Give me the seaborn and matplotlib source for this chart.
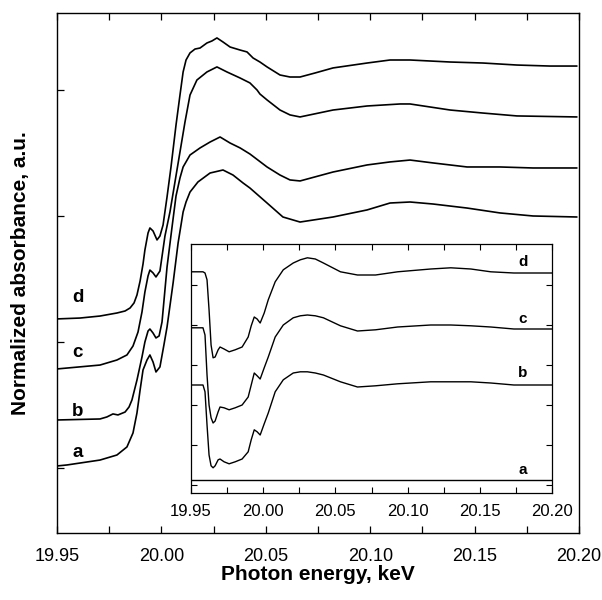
import matplotlib
matplotlib.use("Agg")
import matplotlib.pyplot as plt
import seaborn as sns
from matplotlib.ticker import MultipleLocator, FormatStrFormatter

# ---------------- main panel: normalized XANES spectra ----------------
energy_a = [19.9500, 19.9548, 19.9706, 19.9787, 19.9835, 19.9864, 19.9883, 19.9898, 19.9912,
            19.9931, 19.9945, 19.9960, 19.9974, 19.9993, 20.0012, 20.0027, 20.0056, 20.0080,
            20.0094, 20.0104, 20.0118, 20.0137, 20.0175, 20.0233, 20.0295, 20.0343, 20.0391,
            20.0424, 20.0506, 20.0582, 20.0664, 20.0822, 20.0985, 20.1095, 20.1191, 20.1301,
            20.1464, 20.1622, 20.1780, 20.1990]
absorb_a = [1.016, 1.024, 1.063, 1.103, 1.167, 1.278, 1.437, 1.619, 1.778,
            1.857, 1.897, 1.841, 1.762, 1.802, 1.976, 2.119, 2.468, 2.786,
            2.929, 3.032, 3.111, 3.190, 3.270, 3.341, 3.365, 3.325, 3.262,
            3.222, 3.103, 2.992, 2.952, 2.992, 3.048, 3.103, 3.111, 3.095,
            3.063, 3.024, 3.000, 2.992]

energy_b = [19.9500, 19.9706, 19.9739, 19.9768, 19.9792, 19.9826, 19.9845, 19.9859, 19.9883,
            19.9907, 19.9921, 19.9936, 19.9945, 19.9960, 19.9974, 19.9989, 20.0003, 20.0027,
            20.0051, 20.0070, 20.0089, 20.0104, 20.0137, 20.0185, 20.0233, 20.0281, 20.0329,
            20.0377, 20.0424, 20.0506, 20.0568, 20.0616, 20.0664, 20.0822, 20.0985, 20.1095,
            20.1191, 20.1301, 20.1464, 20.1622, 20.1780, 20.1990]
absorb_b = [1.381, 1.389, 1.405, 1.429, 1.421, 1.444, 1.484, 1.540, 1.698,
            1.881, 2.000, 2.087, 2.103, 2.071, 2.032, 2.048, 2.159, 2.595,
            2.913, 3.159, 3.302, 3.389, 3.484, 3.540, 3.587, 3.627, 3.579,
            3.540, 3.492, 3.389, 3.325, 3.286, 3.278, 3.349, 3.405, 3.429,
            3.444, 3.421, 3.389, 3.389, 3.381, 3.381]

energy_c = [19.9500, 19.9706, 19.9787, 19.9835, 19.9864, 19.9888, 19.9907, 19.9921, 19.9936,
            19.9945, 19.9960, 19.9974, 19.9993, 20.0017, 20.0041, 20.0065, 20.0089, 20.0113,
            20.0137, 20.0170, 20.0218, 20.0266, 20.0314, 20.0377, 20.0424, 20.0458, 20.0472,
            20.0506, 20.0568, 20.0616, 20.0664, 20.0822, 20.0985, 20.1143, 20.1191, 20.1383,
            20.1540, 20.1703, 20.1990]
absorb_c = [1.786, 1.817, 1.857, 1.897, 1.968, 2.079, 2.238, 2.397, 2.524,
            2.571, 2.548, 2.516, 2.563, 2.841, 3.032, 3.270, 3.508, 3.746,
            3.960, 4.079, 4.143, 4.183, 4.143, 4.095, 4.056, 4.000, 3.968,
            3.921, 3.841, 3.802, 3.786, 3.841, 3.873, 3.889, 3.889, 3.841,
            3.817, 3.794, 3.786]

energy_d = [19.9500, 19.9610, 19.9706, 19.9787, 19.9826, 19.9850, 19.9869, 19.9883, 19.9898,
            19.9912, 19.9921, 19.9936, 19.9945, 19.9960, 19.9979, 19.9993, 20.0008, 20.0027,
            20.0046, 20.0070, 20.0089, 20.0104, 20.0118, 20.0137, 20.0161, 20.0185, 20.0218,
            20.0242, 20.0266, 20.0295, 20.0329, 20.0377, 20.0410, 20.0439, 20.0472, 20.0506,
            20.0568, 20.0616, 20.0664, 20.0736, 20.0822, 20.0985, 20.1095, 20.1191, 20.1383,
            20.1540, 20.1703, 20.1861, 20.1990]
absorb_d = [2.183, 2.190, 2.206, 2.230, 2.246, 2.270, 2.310, 2.373, 2.484,
            2.619, 2.730, 2.865, 2.905, 2.881, 2.810, 2.841, 2.929, 3.151,
            3.389, 3.722, 3.960, 4.143, 4.238, 4.294, 4.325, 4.333, 4.373,
            4.389, 4.413, 4.381, 4.341, 4.317, 4.302, 4.254, 4.222, 4.183,
            4.119, 4.103, 4.103, 4.135, 4.175, 4.214, 4.238, 4.238, 4.222,
            4.214, 4.198, 4.190, 4.190]

main_labels = ["a", "b", "c", "d"]
main_label_y = [1.12, 1.45, 1.92, 2.35]
main_label_x = 19.960

main_xticks = [19.95, 20.00, 20.05, 20.10, 20.15, 20.20]
main_yticks = [1, 2, 3, 4]

# ---------------- inset: difference spectra ----------------
energy_inset = [19.9500, 19.9563, 19.9583, 19.9597, 19.9611, 19.9625, 19.9639, 19.9653, 19.9667,
                19.9688, 19.9701, 19.9729, 19.9764, 19.9806, 19.9854, 19.9896, 19.9917, 19.9938,
                19.9958, 19.9979, 20.0007, 20.0035, 20.0083, 20.0139, 20.0208, 20.0257, 20.0306,
                20.0361, 20.0417, 20.0535, 20.0653, 20.0778, 20.0931, 20.1160, 20.1299, 20.1438,
                20.1576, 20.1736, 20.2000]
diff_a = [0.13] * 39
diff_b = [2.50, 2.50, 2.50, 2.33, 1.50, 0.75, 0.48, 0.43, 0.48,
          0.63, 0.65, 0.58, 0.53, 0.58, 0.65, 0.83, 1.13, 1.38,
          1.33, 1.25, 1.53, 1.80, 2.33, 2.63, 2.80, 2.83, 2.83,
          2.80, 2.75, 2.58, 2.45, 2.48, 2.53, 2.58, 2.58, 2.58,
          2.55, 2.50, 2.50]
diff_c = [3.93, 3.93, 3.93, 3.75, 2.75, 2.00, 1.68, 1.55, 1.60,
          1.83, 1.95, 1.93, 1.88, 1.93, 2.00, 2.20, 2.50, 2.80,
          2.73, 2.65, 2.93, 3.20, 3.70, 4.00, 4.18, 4.23, 4.25,
          4.23, 4.18, 3.98, 3.85, 3.88, 3.95, 4.00, 4.00, 3.98,
          3.95, 3.90, 3.90]
diff_d = [5.33, 5.33, 5.33, 5.30, 5.13, 4.38, 3.50, 3.18, 3.20,
          3.38, 3.45, 3.40, 3.33, 3.38, 3.45, 3.70, 3.98, 4.20,
          4.15, 4.05, 4.30, 4.63, 5.08, 5.38, 5.55, 5.63, 5.68,
          5.65, 5.55, 5.33, 5.25, 5.25, 5.33, 5.40, 5.43, 5.40,
          5.33, 5.30, 5.30]

inset_label_x = 20.180
inset_label_y = [0.38, 2.80, 4.15, 5.58]
inset_xticks = [19.95, 20.00, 20.05, 20.10, 20.15, 20.20]
inset_yticks = [0, 1, 2, 3, 4, 5]

# ---------------- drawing ----------------
sns.set_style("ticks")
plt.rcParams["font.family"] = ["Liberation Sans", "DejaVu Sans"]
plt.rcParams["text.color"] = "black"
plt.rcParams["axes.labelcolor"] = "black"
plt.rcParams["xtick.color"] = "black"
plt.rcParams["ytick.color"] = "black"
plt.rcParams["axes.edgecolor"] = "black"

fig = plt.figure(figsize=(6.02, 6.0), dpi=100)
ax = fig.add_axes([57 / 602, 67 / 600, 522 / 602, 520 / 600])

for xs, ys in [(energy_a, absorb_a), (energy_b, absorb_b),
               (energy_c, absorb_c), (energy_d, absorb_d)]:
    sns.lineplot(x=xs, y=ys, ax=ax, color="black", linewidth=1.2,
                 estimator=None, sort=False, legend=False)

for lab, yy in zip(main_labels, main_label_y):
    ax.text(main_label_x, yy, lab, fontsize=13.5, fontweight="bold",
            ha="center", va="center", color="black")

ax.set_xlim(19.95, 20.20)
ax.set_ylim(0.484, 4.611)
ax.set_xticks(main_xticks)
ax.xaxis.set_major_formatter(FormatStrFormatter("%.2f"))
ax.xaxis.set_minor_locator(MultipleLocator(0.025))
ax.set_yticks(main_yticks)
ax.set_yticklabels([])
ax.tick_params(axis="x", which="both", direction="in", top=True, bottom=True,
               length=5, width=0.9, labelsize=13, pad=11, colors="black")
ax.tick_params(axis="y", which="both", direction="in", left=True, right=False,
               length=5, width=0.9, colors="black")
for sp in ax.spines.values():
    sp.set_linewidth(1.0)
    sp.set_color("black")
ax.set_xlabel("Photon energy, keV", fontsize=15, fontweight="bold", labelpad=0,
              color="black")
ax.set_ylabel("Normalized absorbance, a.u.", fontsize=15, fontweight="bold",
              labelpad=16, color="black")

# inset
axi = fig.add_axes([191 / 602, 107 / 600, 361 / 602, 249 / 600])
for ys in [diff_a, diff_b, diff_c, diff_d]:
    sns.lineplot(x=energy_inset, y=ys, ax=axi, color="black", linewidth=1.0,
                 estimator=None, sort=False, legend=False)
for lab, yy in zip(main_labels, inset_label_y):
    axi.text(inset_label_x, yy, lab, fontsize=11, fontweight="bold",
             ha="center", va="center", color="black")
axi.set_xlim(19.95, 20.20)
axi.set_ylim(-0.2, 6.025)
axi.set_xticks(inset_xticks)
axi.xaxis.set_major_formatter(FormatStrFormatter("%.2f"))
axi.xaxis.set_minor_locator(MultipleLocator(0.025))
axi.set_yticks(inset_yticks)
axi.set_yticklabels([])
axi.tick_params(axis="x", which="both", direction="in", top=True, bottom=True,
                length=4, width=0.8, labelsize=12, pad=8, colors="black")
axi.tick_params(axis="y", which="both", direction="in", left=True, right=True,
                length=4, width=0.8, colors="black")
for sp in axi.spines.values():
    sp.set_linewidth(0.9)
    sp.set_color("black")
axi.set_xlabel("")
axi.set_ylabel("")

fig.savefig("out.png", dpi=100)
